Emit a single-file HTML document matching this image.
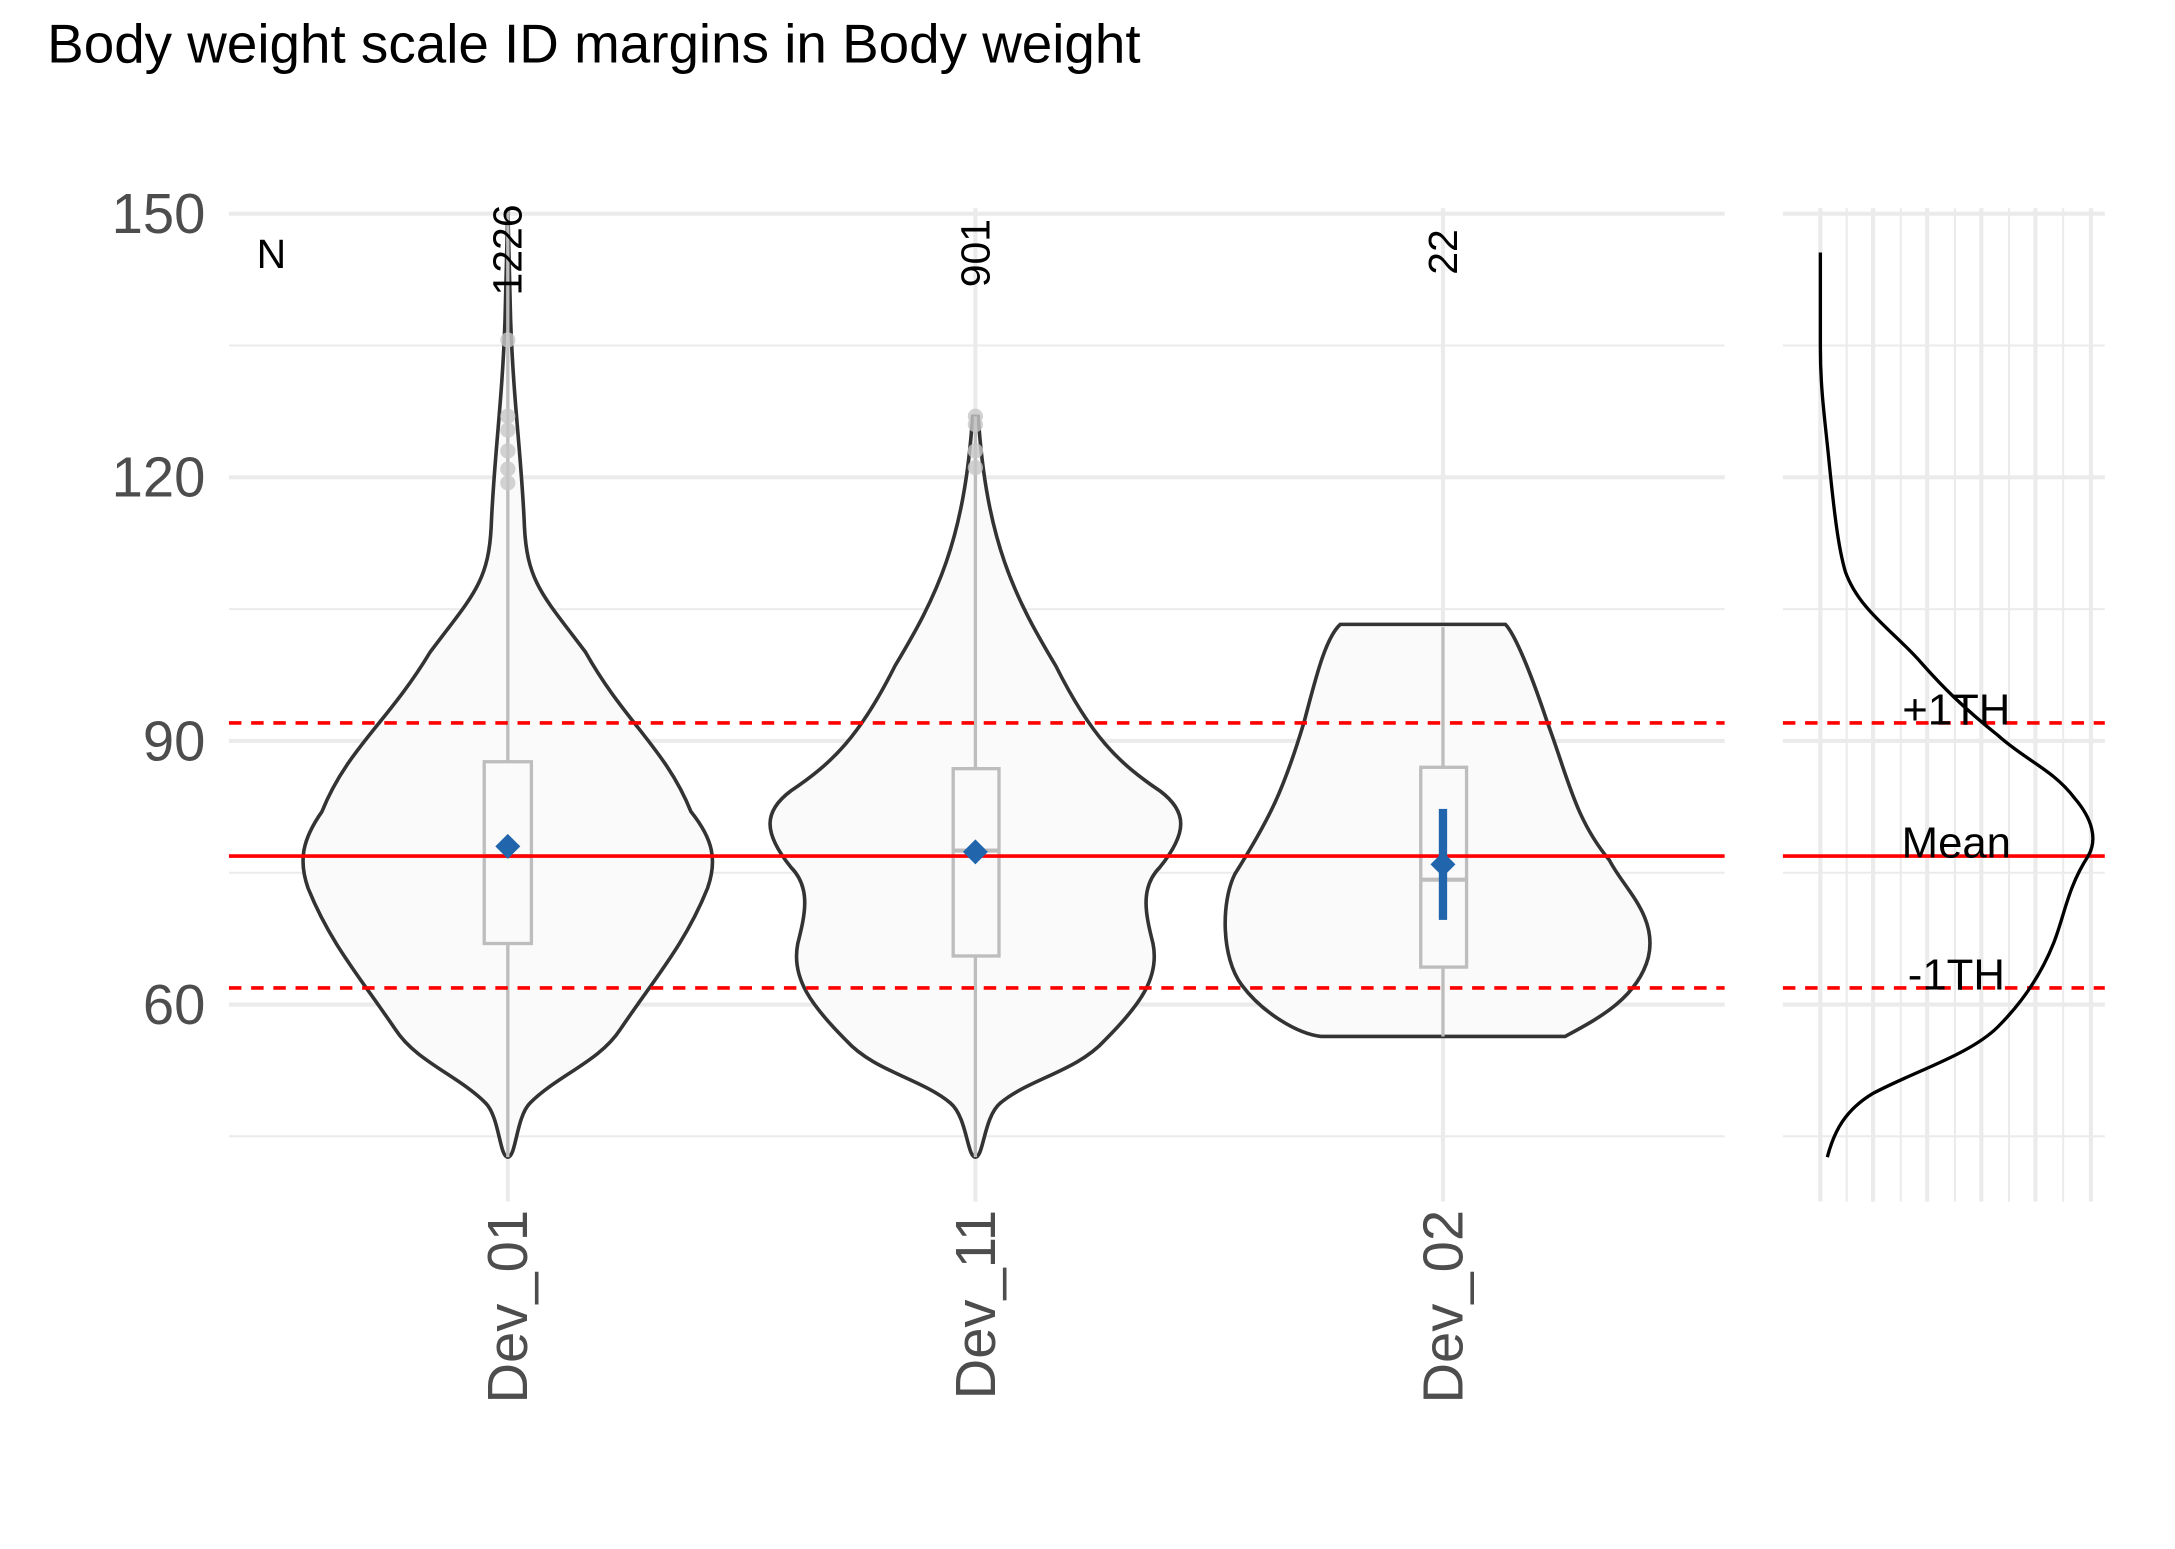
<!DOCTYPE html>
<html><head><meta charset="utf-8"><style>html,body{margin:0;padding:0;background:#fff}svg{display:block}</style></head>
<body>
<svg width="2175" height="1549" viewBox="0 0 1567.6 1116.4" xmlns="http://www.w3.org/2000/svg" font-family="Liberation Sans, sans-serif">
<rect width="1567.6" height="1116.4" fill="#fff"/>
<text x="34" y="45" font-size="39.5" fill="#000">Body weight scale ID margins in Body weight</text>
<g stroke="#ebebeb" stroke-width="1.5">
<line x1="165" x2="1243" y1="249" y2="249"/><line x1="165" x2="1243" y1="439" y2="439"/><line x1="165" x2="1243" y1="629" y2="629"/><line x1="165" x2="1243" y1="819" y2="819"/>
<line x1="1285" x2="1517" y1="249" y2="249"/><line x1="1285" x2="1517" y1="439" y2="439"/><line x1="1285" x2="1517" y1="629" y2="629"/><line x1="1285" x2="1517" y1="819" y2="819"/>
<line x1="1331" x2="1331" y1="150" y2="866"/><line x1="1370" x2="1370" y1="150" y2="866"/><line x1="1409" x2="1409" y1="150" y2="866"/><line x1="1448" x2="1448" y1="150" y2="866"/><line x1="1487" x2="1487" y1="150" y2="866"/>
</g>
<g stroke="#ebebeb" stroke-width="3">
<line x1="165" x2="1243" y1="154" y2="154"/><line x1="165" x2="1243" y1="344" y2="344"/><line x1="165" x2="1243" y1="534" y2="534"/><line x1="165" x2="1243" y1="724" y2="724"/>
<line x1="1285" x2="1517" y1="154" y2="154"/><line x1="1285" x2="1517" y1="344" y2="344"/><line x1="1285" x2="1517" y1="534" y2="534"/><line x1="1285" x2="1517" y1="724" y2="724"/>
<line x1="366" x2="366" y1="150" y2="866"/><line x1="703" x2="703" y1="150" y2="866"/><line x1="1040" x2="1040" y1="150" y2="866"/>
<line x1="1312" x2="1312" y1="150" y2="866"/><line x1="1350" x2="1350" y1="150" y2="866"/><line x1="1389" x2="1389" y1="150" y2="866"/><line x1="1428" x2="1428" y1="150" y2="866"/><line x1="1467" x2="1467" y1="150" y2="866"/><line x1="1507" x2="1507" y1="150" y2="866"/>
</g>
<g font-size="40.5" fill="#4d4d4d" text-anchor="end">
<text x="148" y="168">150</text><text x="148" y="358">120</text><text x="148" y="548">90</text><text x="148" y="738">60</text>
</g>
<g font-size="40.5" fill="#4d4d4d" text-anchor="end">
<text transform="translate(380,872) rotate(-90)">Dev_01</text>
<text transform="translate(717,872) rotate(-90)">Dev_11</text>
<text transform="translate(1054,872) rotate(-90)">Dev_02</text>
</g>
<g fill="#fafafa" stroke="#333" stroke-width="2.6">
<path d="M366,834 C360,834 360,805 350,795 C330,775 300,765 285,742 C260,705 238,680 222,640 C215,620 218,605 232,585 C250,540 280,520 310,470 C340,430 352,420 354,380 C356,330 362,290 364,230 L366,150 L368,230 C370,290 376,330 378,380 C380,420 392,430 422,470 C450,520 480,540 498,585 C514,605 517,620 510,640 C494,680 472,705 447,742 C432,765 402,775 382,795 C372,805 372,834 366,834 Z"/>
<path d="M703,834 C697,834 697,805 685,795 C665,778 630,772 610,750 C585,725 570,705 575,680 C580,660 585,640 570,625 C550,600 550,585 570,570 C600,550 620,530 645,480 C675,430 695,390 701,300 L705,300 C711,390 731,430 761,480 C786,530 806,550 836,570 C856,585 856,600 836,625 C821,640 826,660 831,680 C836,705 821,725 796,750 C776,772 741,778 721,795 C709,805 709,834 703,834 Z"/>
<path d="M952,747 L1128,747 C1150,735 1180,720 1188,690 C1195,660 1170,640 1160,620 C1135,590 1130,560 1115,520 C1100,475 1090,455 1085,450 L966,450 C955,460 948,490 940,520 C925,570 915,590 890,630 C880,650 880,690 895,710 C910,730 935,745 952,747 Z"/>
</g>
<g stroke="#bdbdbd" stroke-width="2.4" fill="none">
<line x1="366" x2="366" y1="834" y2="680"/><line x1="366" x2="366" y1="549" y2="150"/>
<rect x="349" y="549" width="34" height="131"/><line x1="349" x2="383" y1="617" y2="617" stroke-width="3"/>
<line x1="703" x2="703" y1="834" y2="689"/><line x1="703" x2="703" y1="554" y2="300"/>
<rect x="687" y="554" width="33" height="135"/><line x1="687" x2="720" y1="613" y2="613" stroke-width="3"/>
<line x1="1040" x2="1040" y1="747" y2="697"/><line x1="1040" x2="1040" y1="553" y2="452"/>
<rect x="1024" y="553" width="33" height="144"/><line x1="1024" x2="1057" y1="634" y2="634" stroke-width="3"/>
</g>
<g fill="#c8c8c8" opacity="0.8">
<circle cx="366" cy="245" r="5.5"/><circle cx="366" cy="300" r="5.5"/><circle cx="366" cy="310" r="5.5"/><circle cx="366" cy="325" r="5.5"/><circle cx="366" cy="338" r="5.5"/><circle cx="366" cy="348" r="5.5"/>
<circle cx="703" cy="300" r="5.5"/><circle cx="703" cy="306" r="5.5"/><circle cx="703" cy="325" r="5.5"/><circle cx="703" cy="337" r="5.5"/>
</g>
<g stroke="#ff0000" stroke-width="2.6">
<line x1="165" x2="1243" y1="617" y2="617"/><line x1="1285" x2="1517" y1="617" y2="617"/>
<g stroke-dasharray="9,7"><line x1="165" x2="1243" y1="521" y2="521"/><line x1="1285" x2="1517" y1="521" y2="521"/>
<line x1="165" x2="1243" y1="712" y2="712"/><line x1="1285" x2="1517" y1="712" y2="712"/></g>
</g>
<g fill="#2166ac">
<rect x="1037" y="583" width="6" height="80"/>
<path d="M366,601 L375,610 L366,619 L357,610 Z"/>
<path d="M703,605 L712,614 L703,623 L694,614 Z"/>
<path d="M1040,614 L1049,623 L1040,632 L1031,623 Z"/>
</g>
<g font-size="29.5" fill="#000">
<text x="185" y="193">N</text>
<text transform="translate(376,213) rotate(-90)">1226</text>
<text transform="translate(713,207) rotate(-90)">901</text>
<text transform="translate(1050,198) rotate(-90)">22</text>
</g>
<path d="M1317,834 C1322,815 1330,800 1350,788 C1380,772 1420,760 1440,740 C1455,725 1470,705 1480,680 C1488,660 1490,640 1505,617 C1512,605 1508,590 1495,575 C1480,555 1460,548 1440,530 C1415,510 1400,495 1385,478 C1365,455 1340,440 1330,412 C1325,395 1322,370 1318,330 C1315,300 1312,280 1312,250 L1312,182" fill="none" stroke="#000" stroke-width="2.4"/>
<g font-size="31.5" fill="#000" text-anchor="middle">
<text x="1410" y="522">+1TH</text><text x="1410" y="618">Mean</text><text x="1410" y="713">-1TH</text>
</g>
</svg>
</body></html>
